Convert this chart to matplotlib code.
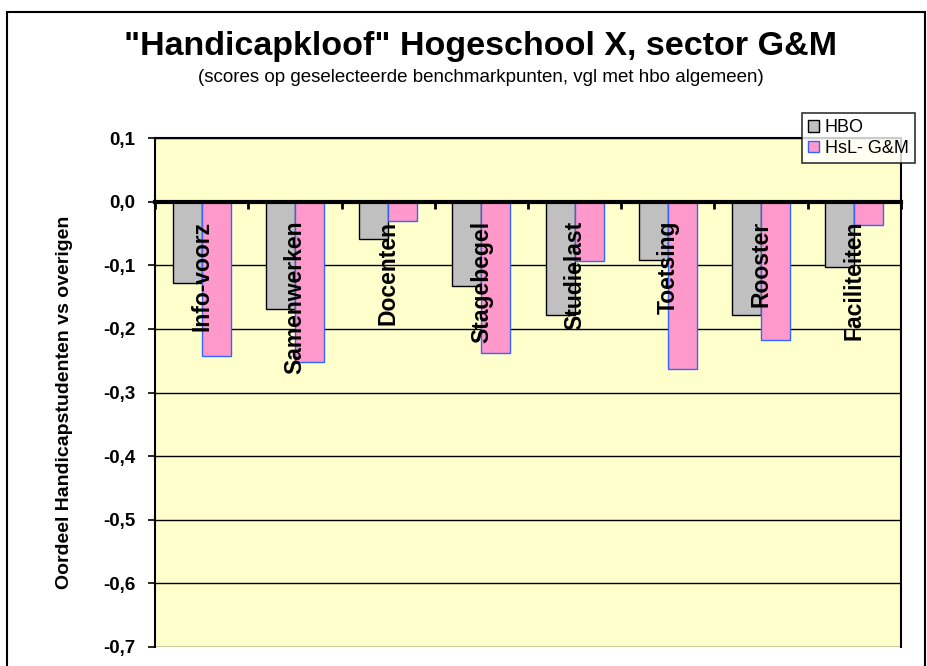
import numpy as np
import matplotlib
matplotlib.use("Agg")
import matplotlib.pyplot as plt
from matplotlib.patches import Rectangle
from matplotlib.transforms import offset_copy

plt.rcParams["font.family"] = ["Liberation Sans", "DejaVu Sans"]

categories = ["Info-voorz", "Samenwerken", "Docenten", "Stagebegel",
              "Studielast", "Toetsing", "Rooster", "Faciliteiten"]
hbo = [-0.128, -0.168, -0.058, -0.132, -0.178, -0.092, -0.178, -0.103]
hsl = [-0.243, -0.252, -0.030, -0.238, -0.094, -0.263, -0.218, -0.037]
yticks = [0.1, 0.0, -0.1, -0.2, -0.3, -0.4, -0.5, -0.6, -0.7]

fig = plt.figure(figsize=(9.28, 6.66), dpi=100)
# outer chart frame (runs off the bottom like the source)
fig.patches.append(Rectangle((7 / 928, -0.05), 918 / 928, 1.05 - 12 / 666,
                             transform=fig.transFigure, fill=False,
                             edgecolor="black", linewidth=1.5))

ax = fig.add_axes([155 / 928, 1 - 647 / 666, 746 / 928, 509 / 666])
ax.set_facecolor("#FFFFCC")

x = np.arange(len(categories))
w = 0.31
ax.bar(x - w / 2, hbo, w, color="#C0C0C0", edgecolor="black", linewidth=1,
       label="HBO", zorder=3)
ax.bar(x + w / 2, hsl, w, color="#FF99CC", edgecolor="#3366FF", linewidth=1,
       label="HsL- G&M", zorder=3)

ax.set_xlim(-0.5, len(categories) - 0.5)
ax.set_ylim(-0.7, 0.1)
ax.set_yticks(yticks)
ax.set_yticklabels([f"{v:.1f}".replace(".", ",") for v in yticks],
                   fontsize=13.5, fontweight="bold")
ax.yaxis.grid(True, color="black", linewidth=1, zorder=1)
ax.set_axisbelow(True)
ax.tick_params(axis="y", length=5, width=1.2, pad=9)

# category axis at zero with ticks on the group boundaries
ax.spines["bottom"].set_position(("data", 0))
ax.spines["bottom"].set_linewidth(3)
ax.spines["bottom"].set_zorder(4)
ax.set_xticks(np.arange(len(categories) + 1) - 0.5)
ax.set_xticklabels([])
ax.tick_params(axis="x", direction="out", length=5, width=2)
for s in ["left", "right", "top"]:
    ax.spines[s].set_linewidth(1.5)

lab_tr = offset_copy(ax.transData, fig=fig, x=0, y=-19, units="dots")
for i, name in enumerate(categories):
    ax.text(i, 0, name, transform=lab_tr, rotation=90, ha="center",
            va="top", fontsize=16.5, fontweight="bold", zorder=5)

fig.text(65 / 928, 1 - 402 / 666, "Oordeel Handicapstudenten vs overigen",
         rotation=90, ha="center", va="center", fontsize=14,
         fontweight="bold")

fig.text(480 / 928, 1 - 47 / 666, "\"Handicapkloof\" Hogeschool X, sector G&M",
         ha="center", va="center", fontsize=24.5, fontweight="bold")
fig.text(481 / 928, 1 - 77 / 666,
         "(scores op geselecteerde benchmarkpunten, vgl met hbo algemeen)",
         ha="center", va="center", fontsize=13.5)

leg = fig.legend(loc="upper left", bbox_to_anchor=(802 / 928, 1 - 113 / 666),
                 frameon=True, fancybox=False, edgecolor="black",
                 fontsize=13, handlelength=0.6, handleheight=0.6,
                 handletextpad=0.3, labelspacing=0.2, borderpad=0.35,
                 borderaxespad=0)
leg.get_frame().set_linewidth(1.2)

fig.savefig("out.png", dpi=100)
